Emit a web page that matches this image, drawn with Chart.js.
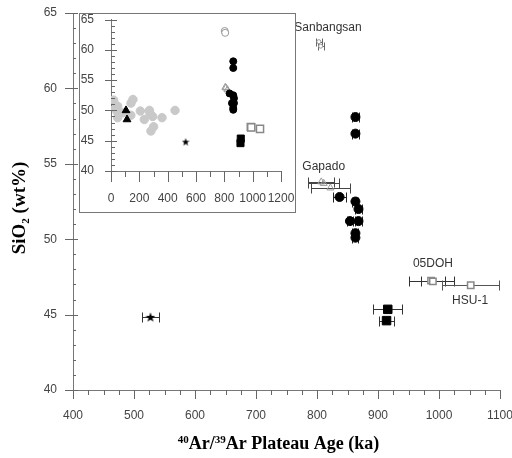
<!DOCTYPE html>
<html>
<head>
<meta charset="utf-8">
<script src="https://cdn.jsdelivr.net/npm/chart.js@4.4.1/dist/chart.umd.min.js"></script>
<style>
  body { margin: 0; background: #fff; }
  #wrap { position: relative; width: 512px; height: 458px; }
  #insetChart { position: absolute; left: 79px; top: 13px; }
</style>
</head>
<body>
<div id="wrap">
  <canvas id="mainChart" width="512" height="458"></canvas>
  <canvas id="insetChart" width="217" height="200"></canvas>
</div>
<script>
// age (ka), age error (ka), SiO2 (wt%)
const sanbangsanAge = [803, 806];
const sanbangsanErr = [5, 5];
const sanbangsanSiO2 = [63.1, 62.8];

const gapadoAge = [807, 811, 822];
const gapadoErr = [21, 25, 32];
const gapadoSiO2 = [53.8, 53.7, 53.4];

const circleAge = [863, 863, 837, 863, 868, 854, 868, 863, 863];
const circleErr = [6, 6, 10, 5, 5, 5, 5, 5, 5];
const circleSiO2 = [58.1, 57.0, 52.8, 52.5, 52.0, 51.2, 51.2, 50.4, 50.1];

const doh05Age = [987, 990];
const doh05Err = [37, 20];
const doh05SiO2 = [47.25, 47.2];

const hsu1Age = [1052];
const hsu1Err = [47];
const hsu1SiO2 = [46.95];

const squareAge = [916, 914];
const squareErr = [24, 13];
const squareSiO2 = [45.35, 44.6];

const starAge = [527];
const starErr = [14];
const starSiO2 = [44.85];

// young lavas, only in the inset
const grayAge = [19, 47, 42, 47, 82, 155, 141, 140, 207, 235, 271, 294, 282, 301, 360, 452, 30, 275];
const graySiO2 = [51.7, 50.7, 49.8, 48.8, 49.6, 51.8, 51.2, 49.2, 49.9, 48.5, 50.0, 49.0, 46.6, 47.3, 48.8, 50.0, 50.3, 49.5];
const triAge = [106, 113];
const triSiO2 = [50.0, 48.5];

// axis ticks
const mainXTicks = [400, 500, 600, 700, 800, 900, 1000, 1100];
const mainYTicks = [40, 45, 50, 55, 60, 65];
const insetXTicks = [0, 200, 400, 600, 800, 1000, 1200];
const insetYTicks = [40, 45, 50, 55, 60, 65];

const groupLabels = ['Sanbangsan', 'Gapado', '05DOH', 'HSU-1'];
const groupLabelAge = [818, 811, 990, 1051];
const groupLabelSiO2 = [64.05, 54.8, 48.35, 45.9];

const sans = "'Liberation Sans', Arial, sans-serif";
const serif = "'Liberation Serif', 'Times New Roman', serif";

function pts(xs, ys) {
  return xs.map((v, i) => ({x: v, y: ys[i]}));
}

function makeStar(size) {
  const c = document.createElement('canvas');
  c.width = size; c.height = size;
  const g = c.getContext('2d');
  const r = size / 2, ri = r * 0.42;
  g.beginPath();
  for (let i = 0; i < 10; i++) {
    const a = -Math.PI / 2 + i * Math.PI / 5;
    const rr = i % 2 ? ri : r;
    g.lineTo(r + rr * Math.cos(a), r + 0.6 + rr * Math.sin(a));
  }
  g.closePath();
  g.fillStyle = '#000';
  g.fill();
  return c;
}

const errorBars = {
  id: 'errorBars',
  beforeDatasetsDraw(chart) {
    const {ctx} = chart;
    const x = chart.scales.x, y = chart.scales.y;
    chart.data.datasets.forEach(ds => {
      if (!ds.xErr) return;
      ctx.save();
      ctx.strokeStyle = ds.errColor || '#000';
      ctx.lineWidth = 1;
      const cap = ds.capSize || 5;
      ds.data.forEach((p, i) => {
        const py = Math.round(y.getPixelForValue(p.y)) + 0.5;
        const x0 = Math.round(x.getPixelForValue(p.x - ds.xErr[i])) + 0.5;
        const x1 = Math.round(x.getPixelForValue(p.x + ds.xErr[i])) + 0.5;
        ctx.beginPath();
        ctx.moveTo(x0, py); ctx.lineTo(x1, py);
        ctx.moveTo(x0, py - cap); ctx.lineTo(x0, py + cap);
        ctx.moveTo(x1, py - cap); ctx.lineTo(x1, py + cap);
        ctx.stroke();
      });
      ctx.restore();
    });
  }
};

// major + minor tick marks, drawn through the scales
const tickMarks = {
  id: 'tickMarks',
  afterDraw(chart, args, opts) {
    const {ctx} = chart;
    ctx.save();
    ctx.strokeStyle = opts.color || '#666';
    ctx.lineWidth = 1;
    ['x', 'y'].forEach(id => {
      const s = chart.scales[id], o = opts[id];
      if (!o) return;
      const n = Math.round((s.max - s.min) / o.minor);
      for (let k = 0; k <= n; k++) {
        const v = s.min + k * o.minor;
        const major = Math.abs(v / o.major - Math.round(v / o.major)) < 1e-6;
        const len = major ? o.majorLen : o.minorLen;
        ctx.beginPath();
        if (id === 'x') {
          const px = Math.round(s.getPixelForValue(v)) + 0.5;
          const base = s.top;
          ctx.moveTo(px, base - len[1]);
          ctx.lineTo(px, base + len[0]);
        } else {
          const py = Math.round(s.getPixelForValue(v)) + 0.5;
          const base = s.right;
          ctx.moveTo(base - len[0], py);
          ctx.lineTo(base + len[1], py);
        }
        ctx.stroke();
      }
    });
    ctx.restore();
  }
};

const mainExtras = {
  id: 'mainExtras',
  afterDraw(chart) {
    const {ctx, chartArea} = chart;
    const x = chart.scales.x, y = chart.scales.y;
    ctx.save();
    // group names
    ctx.font = '12px ' + sans;
    ctx.fillStyle = '#333';
    ctx.textAlign = 'center';
    ctx.textBaseline = 'middle';
    groupLabels.forEach((t, i) => {
      ctx.fillText(t, x.getPixelForValue(groupLabelAge[i]), y.getPixelForValue(groupLabelSiO2[i]));
    });

    // x title with superscripts
    let big = 'bold 18px ' + serif, small = 'bold 11px ' + serif;
    const parts = [['40', true], ['Ar/', false], ['39', true], ['Ar Plateau Age (ka)', false]];
    let w = 0;
    parts.forEach(p => { ctx.font = p[1] ? small : big; w += ctx.measureText(p[0]).width; });
    let cx = (chartArea.left + chartArea.right) / 2 - 8 - w / 2;
    const by = 449;
    ctx.textAlign = 'left';
    ctx.textBaseline = 'alphabetic';
    ctx.fillStyle = '#000';
    parts.forEach(p => {
      ctx.font = p[1] ? small : big;
      ctx.fillText(p[0], cx, p[1] ? by - 6 : by);
      cx += ctx.measureText(p[0]).width;
    });

    // y title with subscript
    big = 'bold 19px ' + serif;
    ctx.translate(25, 208);
    ctx.rotate(-Math.PI / 2);
    const yparts = [['SiO', 0], ['2', 1], [' (wt%)', 0]];
    w = 0;
    yparts.forEach(p => { ctx.font = p[1] ? small : big; w += ctx.measureText(p[0]).width; });
    cx = -w / 2;
    yparts.forEach(p => {
      ctx.font = p[1] ? small : big;
      ctx.fillText(p[0], cx, p[1] ? 4 : 0);
      cx += ctx.measureText(p[0]).width;
    });
    ctx.restore();
  }
};

const insetFrame = {
  id: 'insetFrame',
  beforeDraw(chart) {
    const {ctx, width, height} = chart;
    ctx.save();
    ctx.fillStyle = '#fff';
    ctx.fillRect(0, 0, width, height);
    ctx.restore();
  },
  afterDraw(chart) {
    const {ctx, width, height} = chart;
    ctx.save();
    ctx.strokeStyle = '#777';
    ctx.lineWidth = 1;
    ctx.strokeRect(0.5, 0.5, width - 1, height - 1);
    ctx.restore();
  }
};

function noPad(s) {
  s.paddingLeft = 0; s.paddingRight = 0; s.paddingTop = 0; s.paddingBottom = 0;
}

const star9 = makeStar(10);
const star7 = makeStar(8);

// ---------- main chart ----------
new Chart(document.getElementById('mainChart'), {
  type: 'scatter',
  data: {
    datasets: [
      {label: 'star', data: pts(starAge, starSiO2), xErr: starErr, errColor: '#333',
        pointStyle: star9, pointRadius: 5},
      {label: 'squares', data: pts(squareAge, squareSiO2), xErr: squareErr, errColor: '#333',
        pointStyle: 'rect', pointRadius: 6, backgroundColor: '#000', borderColor: '#000'},
      {label: 'circles', data: pts(circleAge, circleSiO2), xErr: circleErr, errColor: '#222',
        pointStyle: 'circle', pointRadius: 4.5, backgroundColor: '#000', borderColor: '#000'},
      {label: '05DOH', data: pts(doh05Age, doh05SiO2), xErr: doh05Err, errColor: '#333',
        pointStyle: 'rect', pointRadius: 4.5, backgroundColor: '#fff', borderColor: '#888', borderWidth: 1.5},
      {label: 'HSU-1', data: pts(hsu1Age, hsu1SiO2), xErr: hsu1Err, errColor: '#555',
        pointStyle: 'rect', pointRadius: 4.5, backgroundColor: '#fff', borderColor: '#888', borderWidth: 1.5},
      {label: 'Gapado', data: pts(gapadoAge, gapadoSiO2), xErr: gapadoErr, errColor: '#444',
        pointStyle: 'triangle', pointRadius: 4, backgroundColor: 'rgba(255,255,255,0)', borderColor: '#999'},
      {label: 'Sanbangsan', data: pts(sanbangsanAge, sanbangsanSiO2), xErr: sanbangsanErr, errColor: '#666', capSize: 4,
        pointStyle: 'circle', pointRadius: 2, backgroundColor: '#fff', borderColor: '#999'}
    ]
  },
  options: {
    responsive: false,
    devicePixelRatio: 1,
    animation: false,
    layout: {padding: {top: 13, right: 12, left: 0, bottom: 0}},
    plugins: {
      legend: {display: false},
      tooltip: {enabled: false},
      tickMarks: {
        color: '#666',
        x: {major: 100, minor: 25, majorLen: [9, 0], minorLen: [5, 0]},
        y: {major: 5, minor: 1, majorLen: [8, 5], minorLen: [0, 3]}
      }
    },
    scales: {
      x: {
        type: 'linear', min: 400, max: 1100,
        afterBuildTicks: s => { s.ticks = mainXTicks.map(v => ({value: v})); },
        afterFit: s => { s.height = 68; noPad(s); },
        grid: {display: false, drawTicks: false},
        border: {display: true, color: '#777', width: 1},
        ticks: {font: {family: sans, size: 12}, color: '#444', padding: 18, maxRotation: 0, autoSkip: false,
          callback: v => String(v)}
      },
      y: {
        min: 40, max: 65,
        afterBuildTicks: s => { s.ticks = mainYTicks.map(v => ({value: v})); },
        afterFit: s => { s.width = 73; noPad(s); },
        grid: {display: false, drawTicks: false},
        border: {display: true, color: '#777', width: 1},
        ticks: {font: {family: sans, size: 12}, color: '#444', padding: 16, callback: v => String(v)}
      }
    }
  },
  plugins: [errorBars, tickMarks, mainExtras]
});

// ---------- inset ----------
new Chart(document.getElementById('insetChart'), {
  type: 'scatter',
  data: {
    datasets: [
      {label: 'star', data: pts(starAge, starSiO2), pointStyle: star7, pointRadius: 4},
      {label: 'squares', data: pts(squareAge, squareSiO2),
        pointStyle: 'rect', pointRadius: 5, backgroundColor: '#000', borderColor: '#000'},
      {label: 'circles', data: pts(circleAge, circleSiO2),
        pointStyle: 'circle', pointRadius: 3.5, backgroundColor: '#000', borderColor: '#000'},
      {label: '05DOH', data: pts(doh05Age, doh05SiO2).concat(pts(hsu1Age, hsu1SiO2)),
        pointStyle: 'rect', pointRadius: 5, backgroundColor: '#fff', borderColor: '#888', borderWidth: 1.5},
      {label: 'Gapado', data: pts(gapadoAge, gapadoSiO2),
        pointStyle: 'triangle', pointRadius: 4, backgroundColor: 'rgba(255,255,255,0)', borderColor: '#999'},
      {label: 'Sanbangsan', data: pts(sanbangsanAge, sanbangsanSiO2),
        pointStyle: 'circle', pointRadius: 3.5, backgroundColor: '#fff', borderColor: '#999'},
      {label: 'triangles', data: pts(triAge, triSiO2),
        pointStyle: 'triangle', pointRadius: 4.5, backgroundColor: '#000', borderColor: '#000'},
      {label: 'young', data: pts(grayAge, graySiO2),
        pointStyle: 'circle', pointRadius: 4.2, backgroundColor: '#c9c9c9', borderColor: '#c9c9c9'}
    ]
  },
  options: {
    responsive: false,
    devicePixelRatio: 1,
    animation: false,
    layout: {padding: {top: 6, right: 15, left: 0, bottom: 0}},
    plugins: {
      legend: {display: false},
      tooltip: {enabled: false},
      tickMarks: {
        color: '#666',
        x: {major: 200, minor: 100, majorLen: [11, 0], minorLen: [6, 0]},
        y: {major: 5, minor: 1, majorLen: [6, 6], minorLen: [0, 4]}
      }
    },
    scales: {
      x: {
        type: 'linear', min: 0, max: 1200,
        afterBuildTicks: s => { s.ticks = insetXTicks.map(v => ({value: v})); },
        afterFit: s => { s.height = 42; noPad(s); },
        grid: {display: false, drawTicks: false},
        border: {display: true, color: '#777', width: 1},
        ticks: {font: {family: sans, size: 12}, color: '#444', padding: 20, maxRotation: 0, autoSkip: false,
          callback: v => String(v)}
      },
      y: {
        min: 40, max: 65,
        afterBuildTicks: s => { s.ticks = insetYTicks.map(v => ({value: v})); },
        afterFit: s => { s.width = 32; noPad(s); },
        grid: {display: false, drawTicks: false},
        border: {display: true, color: '#777', width: 1},
        ticks: {font: {family: sans, size: 12}, color: '#444', padding: 17, callback: v => String(v)}
      }
    }
  },
  plugins: [insetFrame, tickMarks]
});
</script>
</body>
</html>
